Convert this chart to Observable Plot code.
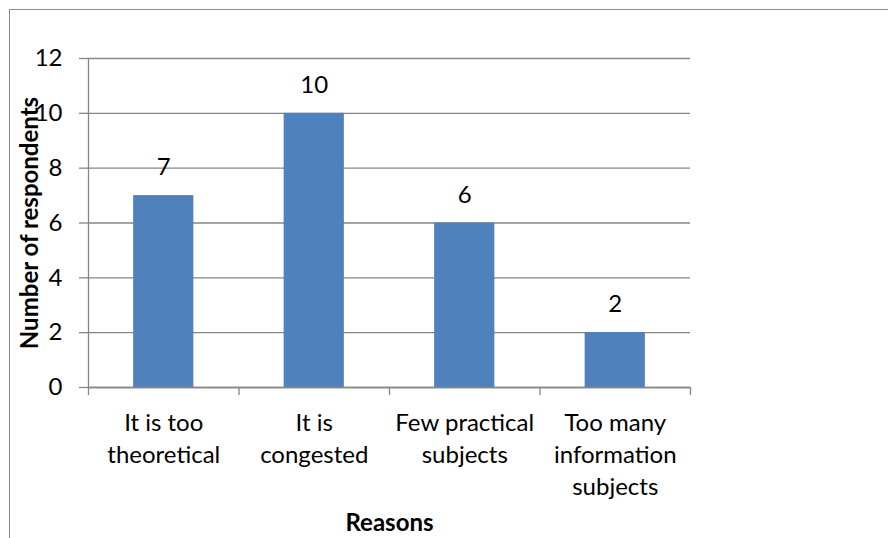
<!DOCTYPE html>
<html>
<head>
<meta charset="utf-8">
<script src="https://cdn.jsdelivr.net/npm/d3@7"></script>
<script src="https://cdn.jsdelivr.net/npm/@observablehq/plot@0.6"></script>
<style>
  html, body { margin: 0; padding: 0; background: #fff; }
  #wrap { position: relative; width: 888px; height: 538px; overflow: hidden; }
  #border { position: absolute; left: 9px; top: 9px; width: 900px; height: 600px;
            border-left: 1.5px solid #8c8c8c; border-top: 1.5px solid #8c8c8c; pointer-events: none; }
  #chart { position: absolute; left: 0; top: 0; }
</style>
</head>
<body>
<div id="wrap"><div id="chart"></div><div id="border"></div></div>
<script>
const categories = ["It is too\ntheoretical", "It is\ncongested", "Few practical\nsubjects", "Too many\ninformation\nsubjects"];
const values = [7, 10, 6, 2];
const yTicks = [0, 2, 4, 6, 8, 10, 12];
const yTitle = "Number of respondents";
const xTitle = "Reasons";

const data = categories.map((c, i) => ({idx: i, category: c, value: values[i]}));
const font = "Lato, 'Open Sans', sans-serif";

const plot = Plot.plot({
  width: 888,
  height: 538,
  marginLeft: 88,
  marginRight: 198,
  marginTop: 58,
  marginBottom: 151,
  style: {fontFamily: font, fontSize: "24px", color: "#000", background: "transparent", overflow: "visible"},
  x: {type: "linear", domain: [0, categories.length]},
  y: {domain: [0, 12]},
  marks: [
    Plot.gridY(yTicks, {stroke: "#868686", strokeOpacity: 1, strokeWidth: 1.3}),
    Plot.rectY(data, {x1: d => d.idx + 0.3, x2: d => d.idx + 0.7, y: "value", fill: "#4F81BD"}),
    Plot.axisY(yTicks, {tickSize: 9, tickPadding: 17, stroke: "#868686", strokeWidth: 1.3, fontSize: 24, fill: "#000", label: null}),
    Plot.axisX(d3.range(categories.length + 1), {tickSize: 8, tickFormat: () => "", stroke: "#868686", strokeWidth: 1.3, label: null}),
    Plot.ruleX([0], {stroke: "#868686", strokeWidth: 1.3}),
    Plot.ruleY([0], {stroke: "#868686", strokeWidth: 1.3}),
    Plot.text(data, {x: d => d.idx + 0.5, y: "value", text: d => String(d.value), dy: -28, fontSize: 24, fill: "#000"}),
    Plot.text(data, {x: d => d.idx + 0.5, y: 0, text: "category", lineAnchor: "top", dy: 21, lineHeight: 1.33, fontSize: 24, fill: "#000"}),
    Plot.text([yTitle], {frameAnchor: "left", dx: -58, rotate: -90, textAnchor: "middle", lineAnchor: "middle", fontWeight: "bold", fontSize: 24, fill: "#000"}),
    Plot.text([xTitle], {frameAnchor: "bottom", dy: 136, lineAnchor: "middle", textAnchor: "middle", fontWeight: "bold", fontSize: 24, fill: "#000"})
  ]
});
document.getElementById("chart").appendChild(plot);
</script>
</body>
</html>
